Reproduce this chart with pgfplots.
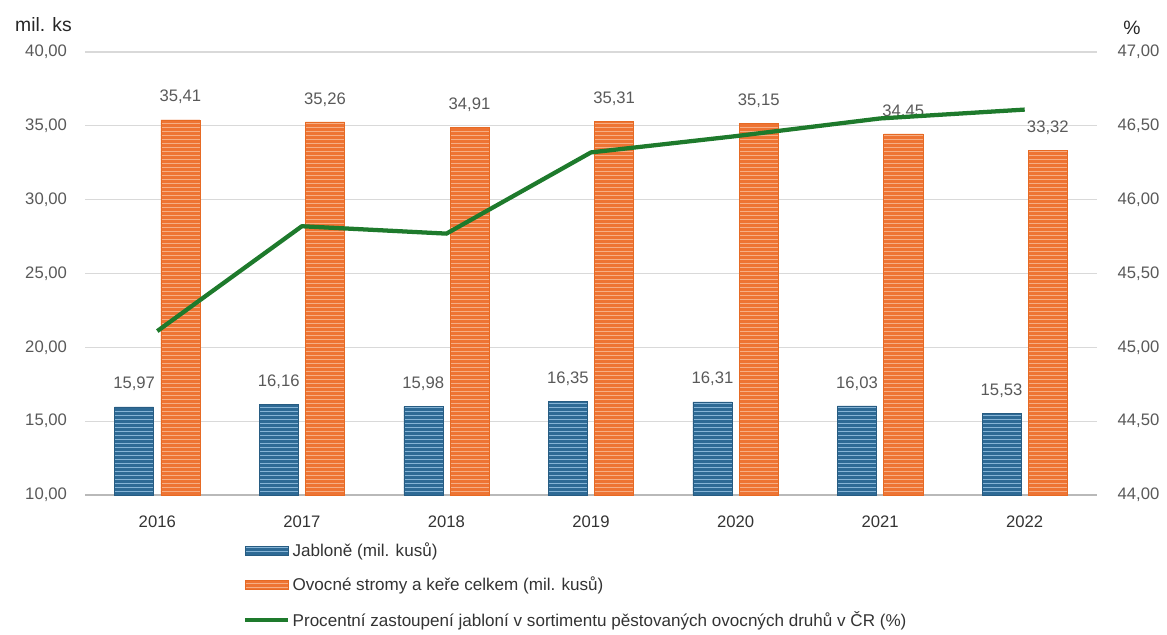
\documentclass[border=0pt]{standalone}
\usepackage{pgfplots}
\pgfplotsset{compat=1.18}
\usepackage{fontspec}
\setmainfont{Liberation Sans}
\usetikzlibrary{patterns.meta}
\definecolor{bluef}{HTML}{2E6A95}
\definecolor{bluel}{HTML}{86B4D6}
\definecolor{blued}{HTML}{275C82}
\definecolor{orf}{HTML}{EE7433}
\definecolor{orl}{HTML}{F6AE84}
\definecolor{ord}{HTML}{E66A24}
\definecolor{grn}{HTML}{1E7A2C}
\definecolor{txt}{HTML}{595959}
\definecolor{gridc}{HTML}{D9D9D9}
\pgfplotsset{
  rectleg/.style={legend image code/.code={\draw[##1] (0pt,-3.5pt) rectangle (32pt,3.5pt);}},
  lineleg/.style={legend image code/.code={\draw[##1] (0pt,0pt) -- (32pt,0pt);}},
}
\begin{document}
\begin{tikzpicture}
\useasboundingbox (0,0) rectangle (875.25pt,476.25pt);
\begin{axis}[
  at={(63.75pt,105pt)}, anchor=south west,
  scale only axis, width=759pt, height=332.25pt,
  xmin=-0.5, xmax=6.5, ymin=10, ymax=40,
  xtick={0,...,6}, xticklabels={2016,2017,2018,2019,2020,2021,2022},
  ytick={10,15,...,40},
  axis x line*=bottom, axis y line*=left,
  x axis line style={draw=gray!55, line width=1.4pt, -},
  y axis line style={draw=none},
  tick style={draw=none},
  ymajorgrids, grid style={gridc, line width=0.8pt},
  /pgf/number format/.cd, fixed, fixed zerofill, precision=2, use comma, assume math mode=true,
  /pgfplots/.cd,
  tick label style={font=\fontsize{12.5}{14}\selectfont, text=txt},
  xticklabel style={font=\fontsize{12.5}{14}\selectfont, text=black!80, yshift=-8pt},
  yticklabel style={xshift=-10pt},
  ybar, bar width=0.27,
  nodes near coords,
  every node near coord/.append style={font=\fontsize{12.5}{14}\selectfont, text=txt, anchor=center, yshift=17pt},
  legend style={at={(0.152,-0.095)}, anchor=north west, draw=none, fill=none,
    font=\fontsize{12.8}{15}\selectfont, text=black!80, row sep=10pt,
    /tikz/every even column/.append style={column sep=2pt}},
  legend cell align=left,
  clip=false,
]
\addplot[bar shift=-0.16, fill=bluef, draw=blued, line width=0.4pt,
  postaction={pattern={Lines[angle=0,distance=3pt,line width=0.6pt]}, pattern color=bluel},
  rectleg]
  coordinates {(0,15.97) (1,16.16) (2,15.98) (3,16.35) (4,16.31) (5,16.03) (6,15.53)};
\addlegendentry{Jabloně (mil. kusů)}
\addplot[bar shift=0.16, fill=orf, draw=ord, line width=0.4pt,
  postaction={pattern={Lines[angle=0,distance=3pt,line width=0.6pt]}, pattern color=orl},
  rectleg]
  coordinates {(0,35.41) (1,35.26) (2,34.91) (3,35.31) (4,35.15) (5,34.45) (6,33.32)};
\addlegendentry{Ovocné stromy a keře celkem (mil. kusů)}
\addlegendimage{grn, line width=3.2pt, lineleg}
\addlegendentry{Procentní zastoupení jabloní v sortimentu pěstovaných ovocných druhů v ČR (\%)}
\end{axis}
\begin{axis}[
  at={(63.75pt,105pt)}, anchor=south west,
  scale only axis, width=759pt, height=332.25pt,
  xmin=-0.5, xmax=6.5, ymin=44, ymax=47,
  ytick={44,44.5,...,47},
  axis x line=none, axis y line*=right,
  y axis line style={draw=none},
  tick style={draw=none},
  /pgf/number format/.cd, fixed, fixed zerofill, precision=2, use comma, assume math mode=true,
  /pgfplots/.cd,
  tick label style={font=\fontsize{12.5}{14}\selectfont, text=txt},
  yticklabel style={xshift=12pt},
]
\addplot[grn, line width=3.2pt, line join=round]
  coordinates {(0,45.11) (1,45.82) (2,45.77) (3,46.32) (4,46.43) (5,46.55) (6,46.61)};
\end{axis}
\node[font=\fontsize{14.5}{16}\selectfont, text=black!85] at (32.6pt,457.5pt) {mil. ks};
\node[font=\fontsize{14.5}{16}\selectfont, text=black!85] at (849pt,455.25pt) {\%};
\end{tikzpicture}
\end{document}
